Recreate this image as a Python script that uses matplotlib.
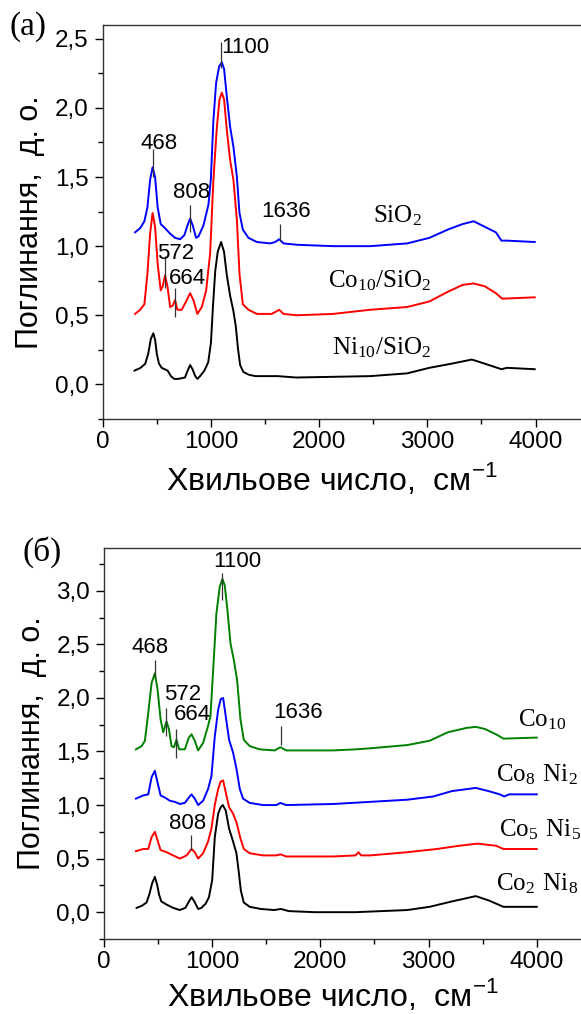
import matplotlib
matplotlib.use("Agg")
import matplotlib.pyplot as plt
from matplotlib.ticker import MultipleLocator, FuncFormatter

plt.rcParams['font.family'] = ['Liberation Sans', 'DejaVu Sans']
plt.rcParams['mathtext.fontset'] = 'custom'
plt.rcParams['mathtext.rm'] = 'Liberation Serif'
plt.rcParams['mathtext.sf'] = 'Liberation Sans'

# ---- panel (a): spectra ----
sio2_x = [299, 346, 385, 413, 438, 461, 484, 508, 536, 576, 623, 669, 715, 755, 783, 808, 832,
          863, 885, 931, 977, 999, 1023, 1048, 1076, 1101, 1122, 1147, 1178, 1208, 1240, 1264,
          1295, 1347, 1425, 1548, 1594, 1631, 1671, 1795, 2130, 2472, 2814, 3019, 3190, 3327,
          3429, 3531, 3634, 3685, 3737, 3993]
sio2_y = [1.10, 1.13, 1.18, 1.28, 1.48, 1.57, 1.50, 1.28, 1.16, 1.13, 1.09, 1.06, 1.05, 1.08, 1.15, 1.20, 1.15,
          1.06, 1.07, 1.15, 1.30, 1.48, 1.91, 2.18, 2.30, 2.33, 2.28, 2.08, 1.86, 1.72, 1.50, 1.24,
          1.12, 1.06, 1.03, 1.02, 1.03, 1.05, 1.02, 1.01, 1.00, 1.00, 1.02, 1.06, 1.12, 1.16,
          1.18, 1.14, 1.10, 1.04, 1.04, 1.03]

co10_x = [299, 346, 385, 413, 438, 461, 484, 508, 536, 555, 576, 598, 623, 647, 669, 690, 730,
          777, 808, 838, 875, 916, 956, 993, 1023, 1055, 1079, 1101, 1122, 1147, 1178, 1208,
          1240, 1264, 1295, 1347, 1425, 1563, 1631, 1671, 1795, 2130, 2472, 2814, 3019, 3190,
          3327, 3429, 3531, 3634, 3692, 3993]
co10_y = [0.51, 0.54, 0.58, 0.80, 1.09, 1.24, 1.14, 0.87, 0.68, 0.71, 0.79, 0.71, 0.56, 0.57, 0.61, 0.54, 0.54,
          0.61, 0.66, 0.61, 0.51, 0.56, 0.68, 0.95, 1.48, 1.86, 2.06, 2.11, 2.06, 1.84, 1.62, 1.48,
          1.19, 0.80, 0.58, 0.54, 0.51, 0.51, 0.54, 0.51, 0.50, 0.51, 0.54, 0.56, 0.60, 0.67,
          0.72, 0.73, 0.71, 0.66, 0.62, 0.63]

ni10_x = [294, 350, 393, 420, 445, 468, 485, 500, 520, 545, 600, 630, 660, 700, 760, 785, 808,
          830, 855, 875, 900, 940, 975, 1000, 1020, 1040, 1063, 1094, 1121, 1147, 1178, 1208,
          1230, 1250, 1270, 1300, 1350, 1412, 1617, 1788, 2472, 2814, 3019, 3224, 3412, 3531,
          3685, 3737, 3993]
ni10_y = [0.10, 0.12, 0.15, 0.22, 0.33, 0.37, 0.32, 0.22, 0.15, 0.12, 0.10, 0.06, 0.04, 0.04, 0.05, 0.10, 0.14,
          0.11, 0.06, 0.04, 0.06, 0.10, 0.16, 0.30, 0.58, 0.82, 0.96, 1.03, 0.96, 0.79, 0.64, 0.53,
          0.42, 0.26, 0.14, 0.09, 0.07, 0.06, 0.06, 0.05, 0.06, 0.08, 0.12, 0.15, 0.18, 0.15,
          0.11, 0.12, 0.11]

# ---- panel (б) ----
g_x = [295, 348, 378, 409, 440, 470, 495, 523, 547, 578, 600, 624, 646, 670, 695, 747, 784,
       809, 839, 870, 916, 962, 984, 1009, 1039, 1070, 1095, 1116, 1141, 1169, 1199, 1230,
       1261, 1292, 1347, 1439, 1578, 1630, 1685, 1870, 2120, 2325, 2462, 2803, 3009, 3179,
       3350, 3436, 3521, 3624, 3692, 4000]
g_y = [1.52, 1.55, 1.60, 1.86, 2.14, 2.23, 2.08, 1.80, 1.68, 1.78, 1.71, 1.55, 1.54, 1.61, 1.52, 1.52, 1.63,
       1.66, 1.60, 1.51, 1.58, 1.74, 1.83, 2.26, 2.79, 3.04, 3.11, 3.05, 2.82, 2.51, 2.36, 2.17,
       1.80, 1.61, 1.55, 1.52, 1.51, 1.54, 1.51, 1.51, 1.51, 1.52, 1.53, 1.56, 1.60, 1.68,
       1.72, 1.73, 1.71, 1.66, 1.62, 1.63]

b_x = [295, 363, 409, 440, 470, 495, 523, 563, 609, 655, 701, 747, 784, 809, 839, 870, 916,
       962, 993, 1024, 1055, 1079, 1101, 1125, 1156, 1193, 1224, 1255, 1285, 1347, 1470,
       1593, 1630, 1685, 2120, 2462, 2803, 3043, 3214, 3436, 3555, 3658, 3699, 3744, 4000]
b_y = [1.06, 1.09, 1.10, 1.26, 1.32, 1.21, 1.09, 1.07, 1.04, 1.03, 1.01, 1.02, 1.07, 1.10, 1.06, 1.00, 1.04,
       1.15, 1.27, 1.64, 1.89, 1.99, 2.00, 1.83, 1.61, 1.49, 1.34, 1.15, 1.06, 1.02, 1.00,
       1.00, 1.02, 1.00, 1.01, 1.03, 1.05, 1.08, 1.13, 1.16, 1.13, 1.10, 1.08, 1.10, 1.10]

r_x = [295, 363, 409, 440, 470, 495, 523, 578, 639, 701, 763, 809, 839, 870, 916, 962, 993,
       1024, 1055, 1079, 1101, 1125, 1156, 1193, 1224, 1261, 1292, 1347, 1470, 1593, 1630,
       1685, 2120, 2325, 2352, 2376, 2462, 2803, 3077, 3282, 3453, 3624, 3692, 4000]
r_y = [0.57, 0.59, 0.59, 0.70, 0.75, 0.67, 0.58, 0.56, 0.53, 0.50, 0.53, 0.59, 0.56, 0.50, 0.55, 0.66, 0.78,
       1.00, 1.15, 1.22, 1.23, 1.12, 0.98, 0.92, 0.84, 0.69, 0.59, 0.55, 0.53, 0.53, 0.54,
       0.52, 0.52, 0.53, 0.56, 0.53, 0.53, 0.56, 0.59, 0.62, 0.64, 0.62, 0.59, 0.59]

k_x = [301, 350, 393, 420, 445, 470, 490, 510, 530, 580, 640, 700, 752, 785, 810, 835, 870,
       900, 940, 970, 1000, 1024, 1055, 1079, 1098, 1125, 1156, 1193, 1224, 1245, 1265, 1292,
       1347, 1450, 1573, 1634, 1709, 1949, 2325, 2803, 3009, 3214, 3436, 3555, 3692, 4000]
k_y = [0.04, 0.06, 0.09, 0.17, 0.27, 0.33, 0.26, 0.16, 0.10, 0.07, 0.04, 0.02, 0.04, 0.10, 0.14, 0.10, 0.03,
       0.04, 0.08, 0.14, 0.30, 0.70, 0.92, 0.98, 1.00, 0.95, 0.78, 0.66, 0.55, 0.38, 0.20, 0.09,
       0.05, 0.03, 0.02, 0.03, 0.01, 0.00, 0.00, 0.02, 0.05, 0.10, 0.15, 0.11, 0.05, 0.05]

# peak marks: label, wavenumber, line from/to, text x, text y
a_peaks = ['468', '808', '1100', '1636', '572', '664']
a_pos = [468, 808, 1090, 1636, 574, 670]
a_top = [1.70, 1.30, 2.48, 1.16, 0.93, 0.70]
a_bot = [1.50, 1.10, 2.29, 1.04, 0.70, 0.49]
a_tx = [518, 817, 1320, 1696, 670, 785]
a_ty = [1.70, 1.35, 2.40, 1.21, 0.905, 0.725]

b_peaks = ['468', '572', '664', '1100', '1636', '808']
b_pos = [470, 574, 670, 1095, 1639, 805]
b_top = [2.35, 1.91, 1.71, 3.17, 1.74, 0.72]
b_bot = [2.20, 1.645, 1.44, 2.91, 1.56, 0.58]
b_tx = [424, 729, 820, 1230, 1796, 775]
b_ty = [2.42, 1.98, 1.79, 3.22, 1.815, 0.78]

a_names = [r'$\mathrm{SiO_2}$', r'$\mathrm{Co_{10}/SiO_2}$', r'$\mathrm{Ni_{10}/SiO_2}$']
a_nx = [2498, 2084, 2121]
a_ny = [1.17, 0.70, 0.217]
b_names = [r'$\mathrm{Co_{10}}$', r'$\mathrm{Co_8\ Ni_2}$', r'$\mathrm{Co_5\ Ni_5}$', r'$\mathrm{Co_2\ Ni_8}$']
b_nx = [3828, 3625, 3653, 3625]
b_ny = [1.73, 1.22, 0.71, 0.20]

fig = plt.figure(figsize=(5.81, 10.14), dpi=100)
ax1 = fig.add_axes([0.1768, 0.5868, 0.838, 0.3886])
ax2 = fig.add_axes([0.1790, 0.0740, 0.838, 0.3856])

comma = FuncFormatter(lambda v, p: f'{v:.1f}'.replace('.', ','))


def style(ax, ymin, ymax, ymaxtick, xlab_y):
    ax.set_xlim(0, 4500)
    ax.set_ylim(ymin, ymax)
    ax.xaxis.set_major_locator(MultipleLocator(1000))
    ax.xaxis.set_minor_locator(MultipleLocator(500))
    ax.set_yticks([i * 0.5 for i in range(int(ymaxtick / 0.5) + 1)])
    ax.yaxis.set_minor_locator(MultipleLocator(0.25))
    ax.yaxis.set_major_formatter(comma)
    ax.tick_params(which='major', direction='out', length=6, width=1.0, labelsize=17.5, pad=4)
    ax.tick_params(axis='x', which='major', pad=3)
    ax.tick_params(which='minor', direction='out', length=3.5, width=1.0)
    ax.spines['right'].set_visible(False)
    for s in ['left', 'top', 'bottom']:
        ax.spines[s].set_linewidth(1.0)
        ax.spines[s].set_color('#333333')
    ax.set_ylabel('Поглинання,  д. о.', fontsize=22)
    ax.yaxis.set_label_coords(-0.118, 0.5)
    ax.set_xlabel('Хвильове число,  см$^{\\mathsf{-1}}$', fontsize=23, va='baseline')
    ax.xaxis.set_label_coords(0.47, xlab_y)


lw = 1.4
ax1.plot(sio2_x, sio2_y, color='#0000ff', lw=lw)
ax1.plot(co10_x, co10_y, color='#ff0000', lw=lw)
ax1.plot(ni10_x, ni10_y, color='black', lw=lw)
style(ax1, -0.25, 2.6, 2.5, -0.180)

ax2.plot(g_x, g_y, color='#008000', lw=lw)
ax2.plot(b_x, b_y, color='#0000ff', lw=lw)
ax2.plot(r_x, r_y, color='#ff0000', lw=lw)
ax2.plot(k_x, k_y, color='black', lw=lw)
style(ax2, -0.25, 3.4, 3.0, -0.171)

for ax, labs, pos, top, bot, tx, ty in [(ax1, a_peaks, a_pos, a_top, a_bot, a_tx, a_ty),
                                        (ax2, b_peaks, b_pos, b_top, b_bot, b_tx, b_ty)]:
    ax.vlines(pos, bot, top, color='#333333', lw=0.9)
    for lab, x, y in zip(labs, tx, ty):
        ax.text(x, y, lab, fontsize=16, ha='center', va='baseline')

for name, x, y in zip(a_names, a_nx, a_ny):
    ax1.text(x, y, name, fontsize=18, ha='left', va='baseline')
for name, x, y in zip(b_names, b_nx, b_ny):
    ax2.text(x, y, name, fontsize=18, ha='left', va='baseline')

fig.text(10 / 581, 1 - 27 / 1014, '(a)', fontsize=24, family='Liberation Serif', va='center', ha='left')
fig.text(23 / 581, 1 - 552 / 1014, '(б)', fontsize=24, family='Liberation Serif', va='center', ha='left')

fig.savefig('out.png', dpi=100)
plt.close(fig)
